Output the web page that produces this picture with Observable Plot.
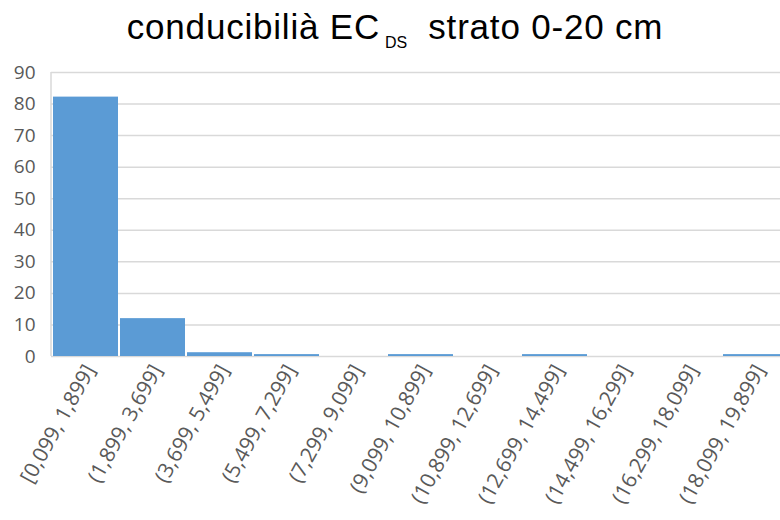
<!DOCTYPE html>
<html>
<head>
<meta charset="utf-8">
<script src="https://cdn.jsdelivr.net/npm/d3@7"></script>
<script src="https://cdn.jsdelivr.net/npm/@observablehq/plot@0.6"></script>
<style>
  body { margin: 0; background: #fff; }
  #chart { width: 780px; height: 520px; position: relative; overflow: hidden; }
  #title {
    height: 60px; text-align: center; font-family: "Liberation Sans", Arial, sans-serif;
    font-size: 35px; letter-spacing: 0.8px; color: #000; line-height: 1; padding-top: 9px;
    box-sizing: border-box; white-space: pre; padding-left: 10px;
  }
  #title sub { font-size: 16px; vertical-align: -9px; margin-left: 5px; letter-spacing: 0; }
  svg { display: block; }
</style>
</head>
<body>
<div id="chart">
  <div id="title">conducibilià EC<sub>DS</sub>  strato 0-20 cm</div>
</div>
<script>
// Class intervals of conductivity and share of samples (%) in each class
const classes = [
  "[0,099, 1,899]", "(1,899, 3,699]", "(3,699, 5,499]", "(5,499, 7,299]",
  "(7,299, 9,099]", "(9,099, 10,899]", "(10,899, 12,699]", "(12,699, 14,499]",
  "(14,499, 16,299]", "(16,299, 18,099]", "(18,099, 19,899]"
];
const shares = [82.2, 12.0, 1.2, 0.6, 0, 0.6, 0, 0.6, 0, 0, 0.6];
const yTicks = [0, 10, 20, 30, 40, 50, 60, 70, 80, 90];

const data = classes.map((c, i) => ({ cls: c, v: shares[i] }));

const plot = Plot.plot({
  width: 780,
  height: 460,
  marginLeft: 51,
  marginRight: -9,
  marginTop: 12,
  marginBottom: 164,
  style: { fontFamily: "'Open Sans', sans-serif", fontSize: "19px", color: "#595959", background: "#fff" },
  x: { domain: classes, paddingInner: 0.03, paddingOuter: 0.015, label: null },
  y: { domain: [0, 90], label: null },
  marks: [
    Plot.gridY(yTicks, { stroke: "#d9d9d9", strokeOpacity: 1, strokeWidth: 1.5 }),
    Plot.barY(data, { x: "cls", y: "v", fill: "#5b9bd5" }),
    Plot.axisY(yTicks, { tickSize: 0, tickPadding: 16, fill: "#595959", fontSize: 19 }),
    Plot.axisX({ tickSize: 0, tickRotate: -61, tickPadding: 10, dx: 4, fill: "#595959", fontSize: 21 })
  ]
});

// left border of the plot frame
d3.select(plot).append("line")
  .attr("x1", 51).attr("x2", 51).attr("y1", 12).attr("y2", 296)
  .attr("stroke", "#d9d9d9").attr("stroke-width", 1.5);

document.getElementById("chart").appendChild(plot);
</script>
</body>
</html>
